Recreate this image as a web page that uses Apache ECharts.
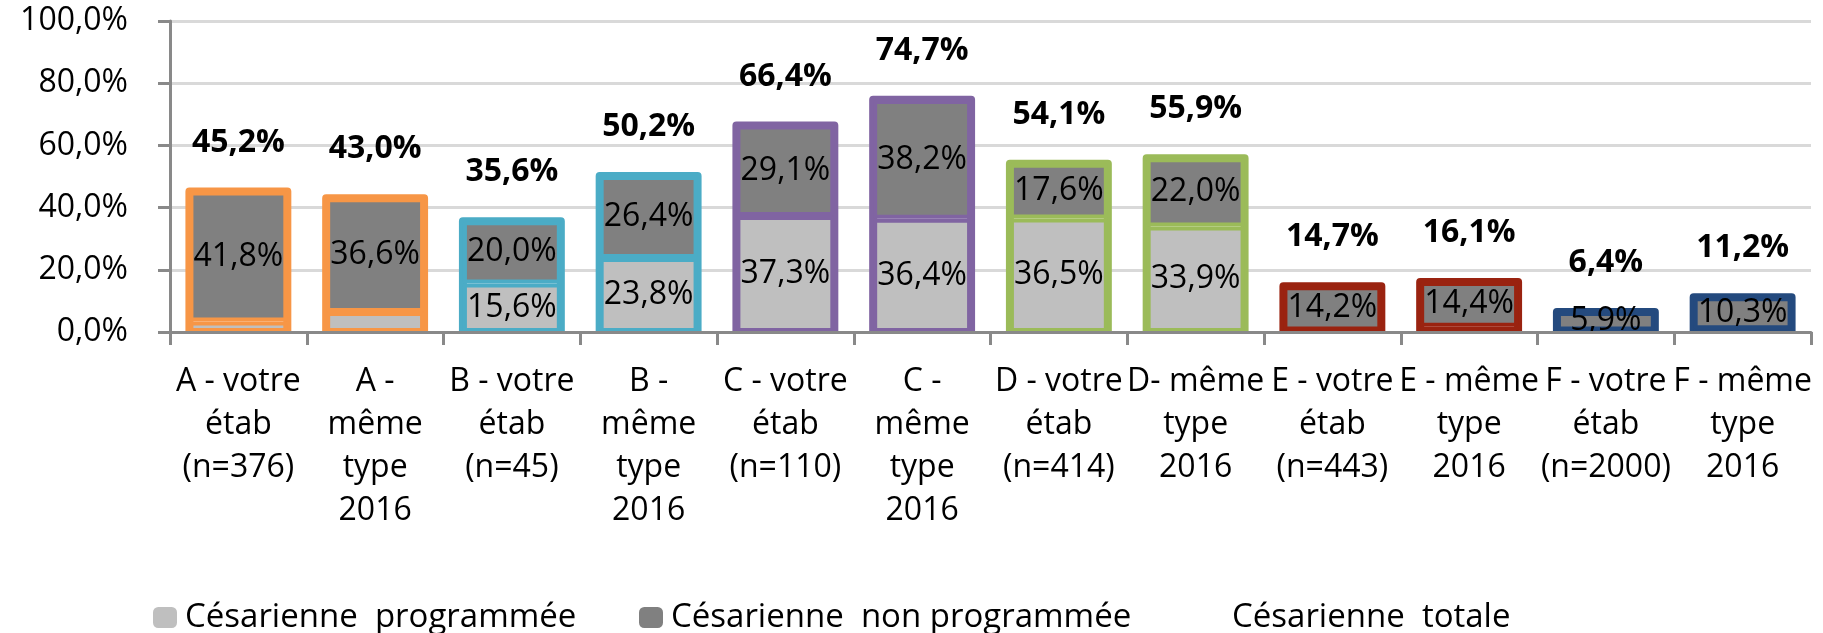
<!DOCTYPE html>
<html>
<head>
<meta charset="utf-8">
<script src="https://cdn.jsdelivr.net/npm/echarts@6/dist/echarts.min.js"></script>
<style>
  html, body { margin: 0; padding: 0; background: #ffffff; }
  #chart { width: 1823px; height: 633px; }
</style>
</head>
<body>
<div id="chart"></div>
<script>
// ---- Data ----
const categories = [
  'A - votre\nétab\n(n=376)',
  'A -\nmême\ntype\n2016',
  'B - votre\nétab\n(n=45)',
  'B -\nmême\ntype\n2016',
  'C - votre\nétab\n(n=110)',
  'C -\nmême\ntype\n2016',
  'D - votre\nétab\n(n=414)',
  'D- même\ntype\n2016',
  'E - votre\nétab\n(n=443)',
  'E - même\ntype\n2016',
  'F - votre\nétab\n(n=2000)',
  'F - même\ntype\n2016'
];
const programmee    = [3.4, 6.4, 15.6, 23.8, 37.3, 36.4, 36.5, 33.9, 0.5, 1.7, 0.5, 0.9];
const nonProgrammee = [41.8, 36.6, 20.0, 26.4, 29.1, 38.2, 17.6, 22.0, 14.2, 14.4, 5.9, 10.3];
const totale        = [45.2, 43.0, 35.6, 50.2, 66.4, 74.7, 54.1, 55.9, 14.7, 16.1, 6.4, 11.2];
const groupColors   = ['#F79646', '#F79646', '#4BACC6', '#4BACC6', '#8064A2', '#8064A2',
                       '#9BBB59', '#9BBB59', '#9A2310', '#9A2310', '#244A7E', '#244A7E'];
const seriesNames   = ['Césarienne programmée', 'Césarienne non programmée', 'Césarienne totale'];
const yTicks = { min: 0, max: 100, interval: 20 };

// ---- Styles ----
const FONT = 'Open Sans';
const AXIS_COLOR = '#898989';
const BAR_RATIO = 0.716;
const fmt = v => v.toFixed(1).replace('.', ',') + '%';

function items(values, fill, bw) {
  return values.map((v, i) => ({
    value: v,
    itemStyle: { color: fill, borderColor: groupColors[i], borderWidth: bw, borderJoin: 'round' }
  }));
}

function legendFor(idx, left, icon) {
  return {
    left: left, top: 596,
    itemWidth: 24, itemHeight: 21,
    formatter: n => n.replace('Césarienne ', 'Césarienne  '),
    textStyle: { fontFamily: FONT, fontSize: 33, lineHeight: 33, color: '#000', padding: [0, 0, 0, 3] },
    data: [{ name: seriesNames[idx], itemStyle: { color: icon, borderWidth: 0 } }]
  };
}

const chart = echarts.init(document.getElementById('chart'), null, { renderer: 'canvas' });

const option = {
  backgroundColor: '#ffffff',
  animation: false,
  textStyle: { fontFamily: FONT },
  grid: { left: 170, right: 12, top: 21, bottom: 301 },
  legend: [
    legendFor(0, 148, '#BFBFBF'),
    legendFor(1, 634, '#808080'),
    legendFor(2, 1195, 'rgba(0,0,0,0)')
  ],
  xAxis: {
    type: 'category',
    data: categories,
    z: 5,
    axisLine: { show: true, lineStyle: { color: AXIS_COLOR, width: 3 } },
    axisTick: { show: true, length: 13, lineStyle: { color: AXIS_COLOR, width: 3 } },
    axisLabel: {
      interval: 0, margin: 28, color: '#000',
      fontFamily: FONT, fontSize: 32, lineHeight: 43, align: 'center'
    },
    splitLine: { show: false }
  },
  yAxis: {
    type: 'value',
    min: yTicks.min, max: yTicks.max, interval: yTicks.interval,
    axisLine: { show: true, lineStyle: { color: AXIS_COLOR, width: 3 } },
    axisTick: { show: true, length: 12, lineStyle: { color: AXIS_COLOR, width: 3 } },
    axisLabel: { margin: 42, color: '#000', fontFamily: FONT, fontSize: 32, formatter: v => fmt(v) },
    splitLine: { show: true, lineStyle: { color: '#D9D9D9', width: 3 } }
  },
  series: [
    {
      // outline of the total bar (stroke centred on the bar edge, clipped to the plot)
      name: 'contour', type: 'custom', z: 1, clip: true, silent: true,
      data: totale.map((v, i) => [i, v]),
      renderItem: (params, api) => {
        const i = api.value(0), v = api.value(1);
        const p0 = api.coord([i, 0]);
        const p1 = api.coord([i, v]);
        const bw = api.size([1, 0])[0] * BAR_RATIO;
        return {
          type: 'rect',
          shape: { x: p0[0] - bw / 2, y: p1[1], width: bw, height: p0[1] - p1[1] },
          style: { fill: 'none', stroke: groupColors[i], lineWidth: 8, lineJoin: 'round' }
        };
      }
    },
    {
      name: seriesNames[0], type: 'bar', stack: 'c', z: 2,
      barWidth: (BAR_RATIO * 100) + '%',
      data: items(programmee, '#BFBFBF', 4),
      label: {
        show: true, position: 'inside', color: '#000', fontFamily: FONT, fontSize: 32,
        formatter: p => (p.value >= 10 ? fmt(p.value) : '')
      }
    },
    {
      name: seriesNames[1], type: 'bar', stack: 'c', z: 2,
      barWidth: (BAR_RATIO * 100) + '%',
      data: items(nonProgrammee, '#808080', 4),
      label: {
        show: true, position: 'inside', color: '#000', fontFamily: FONT, fontSize: 32,
        formatter: p => fmt(p.value)
      }
    },
    {
      name: seriesNames[2], type: 'bar', z: 2,
      barGap: '-100%', barWidth: (BAR_RATIO * 100) + '%',
      data: totale.map(v => ({ value: v, itemStyle: { color: 'rgba(0,0,0,0)', borderWidth: 0 } })),
      label: {
        show: true, position: 'top', distance: 30, color: '#000',
        fontFamily: FONT, fontSize: 32, fontWeight: 'bold', lineHeight: 38,
        formatter: p => fmt(p.value)
      }
    }
  ]
};

chart.setOption(option);
</script>
</body>
</html>
